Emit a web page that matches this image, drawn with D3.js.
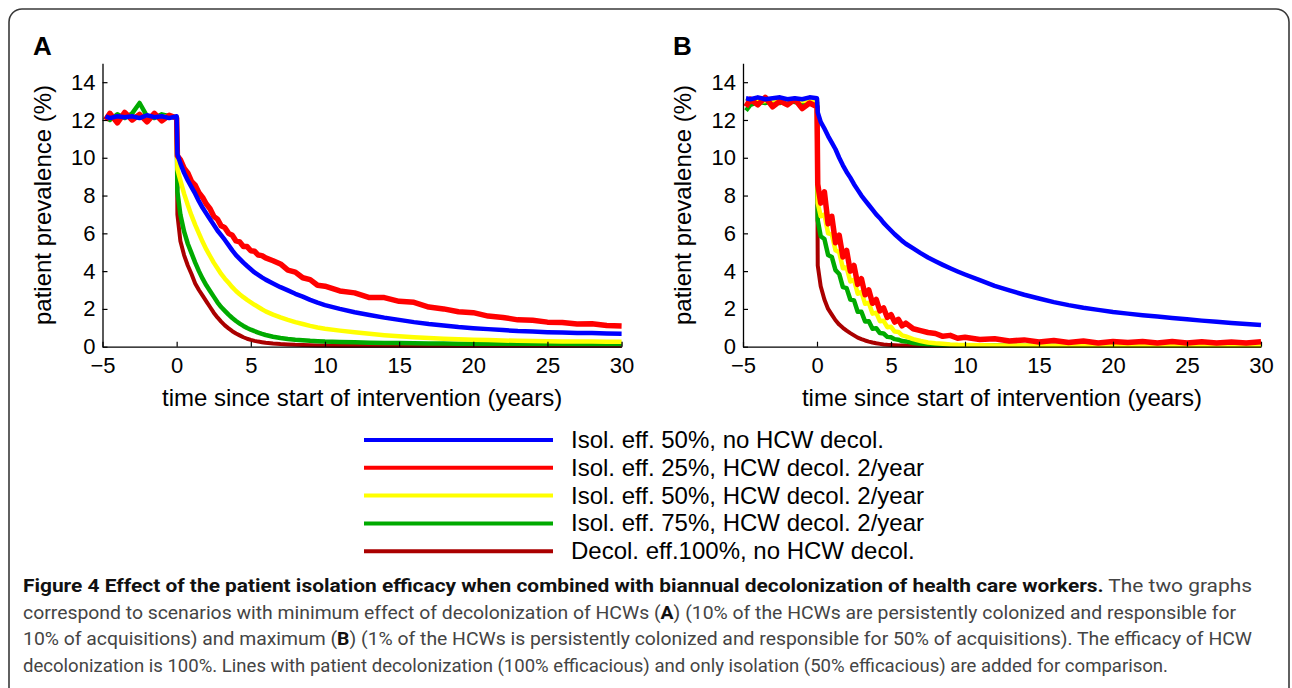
<!DOCTYPE html>
<html><head><meta charset="utf-8">
<script src="https://cdn.jsdelivr.net/npm/d3@7"></script>
<style>
html,body{margin:0;padding:0;background:#fff;}
svg{display:block;font-family:"Liberation Sans",Arial,Helvetica,sans-serif;}
</style></head>
<body>
<script>
// ---------------- DATA ----------------
const T = [-4.8,-4.5,-4,-3.5,-3,-2.5,-2,-1.5,-1,-0.5,0,
  0.05,0.25,0.5,0.75,1,1.25,1.5,1.75,2,2.25,2.5,2.75,3,3.25,3.5,3.75,4,4.25,4.5,4.75,5,5.25,5.5,5.75,6,
  6.5,7,7.5,8,8.5,9,9.5,10,
  11,12,13,14,15,16,17,18,19,20,21,22,23,24,25,26,27,28,29,30];

// Panel A
const blueA = [12.2,12.1,12.2,12.15,12.2,12.1,12.25,12.15,12.2,12.1,12.2,
  10.2,9.7,9.2,8.8,8.45,8.1,7.7,7.35,7.05,6.75,6.45,6.15,5.9,5.65,5.38,5.1,4.85,4.65,4.45,4.27,4.1,3.93,3.8,3.67,3.55,
  3.35,3.15,2.98,2.8,2.65,2.48,2.33,2.2,
  2.0,1.82,1.68,1.54,1.42,1.3,1.2,1.12,1.04,0.98,0.93,0.88,0.83,0.8,0.77,0.75,0.73,0.72,0.7,0.69];
const redA = [12.0,12.35,11.85,12.4,12.0,12.3,11.9,12.35,11.95,12.25,12.1,
  10.1,9.9,9.45,9.2,8.75,8.55,8.15,7.9,7.55,7.3,6.9,6.75,6.4,6.3,6.0,5.9,5.6,5.55,5.3,5.3,5.08,5.05,4.85,4.82,4.7,
  4.55,4.38,4.05,3.95,3.65,3.55,3.25,3.2,
  2.95,2.85,2.6,2.6,2.4,2.35,2.1,2.0,1.85,1.8,1.62,1.55,1.42,1.4,1.3,1.28,1.2,1.22,1.12,1.1];
const yellowA = [12.15,12.2,12.1,12.2,12.15,12.2,12.1,12.2,12.15,12.2,12.15,
  9.4,8.8,8.1,7.5,6.95,6.45,6.0,5.55,5.15,4.8,4.45,4.15,3.85,3.6,3.38,3.15,2.95,2.78,2.62,2.48,2.35,2.22,2.1,1.98,1.87,
  1.7,1.55,1.42,1.3,1.2,1.1,1.02,0.95,
  0.85,0.76,0.68,0.61,0.55,0.5,0.46,0.42,0.39,0.37,0.35,0.33,0.31,0.3,0.29,0.28,0.27,0.27,0.26,0.26];
const greenA = [12.2,12.0,12.3,12.1,12.35,12.9,12.2,12.1,12.3,12.2,12.1,
  8.2,7.0,6.1,5.45,4.95,4.45,4.0,3.6,3.25,2.95,2.65,2.35,2.1,1.9,1.7,1.52,1.36,1.22,1.1,0.99,0.9,0.82,0.75,0.68,0.62,
  0.53,0.46,0.41,0.37,0.34,0.31,0.29,0.27,
  0.25,0.23,0.21,0.2,0.19,0.18,0.17,0.17,0.16,0.16,0.16,0.15,0.15,0.15,0.15,0.15,0.14,0.14,0.14,0.14];
const darkredA = [12.15,12.2,12.15,12.2,12.1,12.2,12.15,12.2,12.1,12.2,12.15,
  7.0,5.6,4.85,4.3,3.85,3.35,3.0,2.7,2.4,2.1,1.8,1.55,1.33,1.13,0.97,0.82,0.7,0.6,0.5,0.42,0.36,0.31,0.27,0.24,0.21,
  0.17,0.14,0.12,0.1,0.09,0.08,0.07,0.06,
  0.05,0.05,0.05,0.05,0.05,0.05,0.05,0.05,0.05,0.05,0.05,0.05,0.05,0.05,0.05,0.05,0.05,0.05,0.05,0.05];

// Panel B
const blueB = [13.15,13.1,13.2,13.1,13.15,13.2,13.1,13.15,13.1,13.2,13.15,
  12.4,11.9,11.55,11.15,10.8,10.45,10.0,9.6,9.25,8.95,8.6,8.3,8.0,7.75,7.5,7.25,7.0,6.8,6.55,6.35,6.15,5.95,5.78,5.6,5.45,
  5.2,4.95,4.72,4.52,4.33,4.15,3.98,3.82,
  3.52,3.22,2.98,2.75,2.55,2.36,2.2,2.06,1.95,1.84,1.75,1.67,1.6,1.52,1.45,1.38,1.32,1.26,1.2,1.15];
const redB = [12.7,13.1,12.8,13.2,12.7,13.0,12.8,13.1,12.6,12.9,12.7,
  8.6,7.6,8.2,6.5,6.9,5.5,5.9,4.75,5.1,4.0,4.3,3.3,3.6,2.75,3.0,2.3,2.5,1.9,2.05,1.55,1.7,1.3,1.45,1.1,1.25,
  0.95,0.85,0.75,0.7,0.55,0.6,0.45,0.5,
  0.38,0.42,0.3,0.36,0.25,0.33,0.22,0.3,0.2,0.28,0.22,0.27,0.2,0.28,0.2,0.26,0.2,0.25,0.2,0.26];
const yellowB = [13.0,13.05,12.95,13.0,13.05,13.0,12.95,13.05,13.0,13.0,13.05,
  7.6,6.9,7.0,6.0,5.95,5.1,5.0,4.15,4.2,3.45,3.55,2.8,2.9,2.27,2.33,1.75,1.8,1.35,1.37,1.03,1.05,0.8,0.78,0.6,0.55,
  0.4,0.3,0.22,0.18,0.15,0.12,0.1,0.09,
  0.08,0.07,0.06,0.06,0.05,0.05,0.05,0.05,0.05,0.05,0.05,0.05,0.05,0.05,0.05,0.05,0.05,0.05,0.05,0.05];
const greenB = [12.5,12.8,12.95,12.9,13.0,12.9,13.1,12.95,12.9,13.0,12.95,
  6.7,5.85,5.7,4.85,4.75,4.05,3.85,3.15,3.1,2.5,2.45,1.85,1.85,1.33,1.35,0.95,0.98,0.72,0.7,0.52,0.5,0.4,0.37,0.3,0.28,
  0.2,0.15,0.12,0.1,0.09,0.08,0.07,0.07,
  0.06,0.06,0.06,0.05,0.05,0.05,0.05,0.05,0.05,0.05,0.05,0.05,0.05,0.05,0.05,0.05,0.05,0.05,0.05,0.05];
const darkredB = [13.0,13.0,13.05,13.0,12.95,13.0,13.05,13.0,13.0,12.95,13.0,
  4.3,3.2,2.5,2.0,1.7,1.4,1.17,1.0,0.85,0.72,0.6,0.48,0.4,0.33,0.27,0.22,0.18,0.15,0.12,0.1,0.09,0.08,0.07,0.06,0.06,
  0.05,0.05,0.05,0.05,0.05,0.05,0.05,0.05,
  0.04,0.04,0.04,0.04,0.04,0.04,0.04,0.04,0.04,0.04,0.04,0.04,0.04,0.04,0.04,0.04,0.04,0.04,0.04,0.04];

const xTicks = [-5,0,5,10,15,20,25,30];
const yTicks = [0,2,4,6,8,10,12,14];
const seriesNames = ["Isol. eff. 50%, no HCW decol.",
  "Isol. eff. 25%, HCW decol. 2/year",
  "Isol. eff. 50%, HCW decol. 2/year",
  "Isol. eff. 75%, HCW decol. 2/year",
  "Decol. eff.100%, no HCW decol."];
const panelLabels = ["A","B"];
const xTitle = "time since start of intervention (years)";
const yTitle = "patient prevalence (%)";
const captionLines = [
  [["Figure 4 Effect of the patient isolation efficacy when combined with biannual decolonization of health care workers.",true],[" The two graphs",false]],
  [["correspond to scenarios with minimum effect of decolonization of HCWs (",false],["A",true],[") (10% of the HCWs are persistently colonized and responsible for",false]],
  [["10% of acquisitions) and maximum (",false],["B",true],[") (1% of the HCWs is persistently colonized and responsible for 50% of acquisitions). The efficacy of HCW",false]],
  [["decolonization is 100%. Lines with patient decolonization (100% efficacious) and only isolation (50% efficacious) are added for comparison.",false]]
];

// ---------------- STYLE / LAYOUT ----------------
const colors = ["#0000ff","#ff0000","#ffff00","#00aa00","#aa0000"];
const widths = [4.5,5.5,4.5,4.5,4];
const W = 1292, H = 688;

const svg = d3.select("body").append("svg").attr("width",W).attr("height",H);
svg.append("rect").attr("width",W).attr("height",H).attr("fill","#fff");
svg.append("rect").attr("x",9).attr("y",9).attr("width",1280).attr("height",740)
  .attr("rx",13).attr("fill","none").attr("stroke","#3a3a3a").attr("stroke-width",1.6);

const panels = [
  {x0:102.5, x1:621.6, letterX:33, series:[blueA,redA,yellowA,greenA,darkredA]},
  {x0:743, x1:1261, letterX:673, series:[blueB,redB,yellowB,greenB,darkredB]}
];
const yTop = 63.3, yBot = 346.7;

panels.forEach((p,pi)=>{
  const x = d3.scaleLinear().domain([-5,30]).range([p.x0,p.x1]);
  const y = d3.scaleLinear().domain([0,15]).range([yBot,yTop]);
  const g = svg.append("g");
  const line = d3.line().x((d,i)=>x(T[i])).y(d=>y(d)).curve(d3.curveLinear);
  [4,3,2,1,0].forEach(si=>{
    g.append("path").datum(p.series[si]).attr("d",line)
      .attr("fill","none").attr("stroke",colors[si]).attr("stroke-width",widths[si])
      .attr("stroke-linejoin","round");
  });
  const xa = g.append("g").attr("transform",`translate(0,${yBot})`)
    .call(d3.axisBottom(x).tickValues(xTicks).tickSizeInner(-5).tickSizeOuter(0).tickPadding(11));
  const ya = g.append("g").attr("transform",`translate(${p.x0},0)`)
    .call(d3.axisLeft(y).tickValues(yTicks).tickSizeInner(-5).tickSizeOuter(0).tickPadding(7));
  [xa,ya].forEach(a=>{
    a.selectAll("path.domain").attr("stroke","#000").attr("stroke-width",1.3);
    a.selectAll(".tick line").attr("stroke","#000").attr("stroke-width",1.2);
    a.selectAll(".tick text").attr("fill","#000").style("font-size","22px")
      .style("font-family","'Liberation Sans',Arial,sans-serif");
  });
  g.append("text").attr("x",(p.x0+p.x1)/2).attr("y",406).attr("text-anchor","middle")
    .style("font-size","24px").attr("fill","#000").text(xTitle);
  g.append("text").attr("transform",`translate(${p.x0-52},${(yTop+yBot)/2}) rotate(-90)`)
    .attr("text-anchor","middle").style("font-size","24px").attr("fill","#000").text(yTitle);
  g.append("text").attr("x",p.letterX).attr("y",55).style("font-size","26px")
    .style("font-weight","bold").attr("fill","#000").text(panelLabels[pi]);
});

// legend
const lg = svg.append("g");
seriesNames.forEach((nm,i)=>{
  const ly = 440 + i*27.8;
  lg.append("line").attr("x1",364).attr("x2",553).attr("y1",ly).attr("y2",ly)
    .attr("stroke",colors[i]).attr("stroke-width",4);
  lg.append("text").attr("x",571).attr("y",ly+8).style("font-size","24px").attr("fill","#000").text(nm);
});

// caption
const capEnds = [1252,1236,1252,1168];
captionLines.forEach((segs,i)=>{
  const t = svg.append("text").attr("x",23).attr("y",592+i*26.7)
    .style("font-family","Roboto,'Liberation Sans',sans-serif")
    .style("font-size","18px").attr("fill","#333")
    .attr("textLength",capEnds[i]-23).attr("lengthAdjust","spacingAndGlyphs");
  segs.forEach(s=>{
    t.append("tspan").style("font-weight",s[1]?"bold":"normal").attr("fill",s[1]?"#111":"#444").text(s[0]);
  });
});
</script>
</body></html>
